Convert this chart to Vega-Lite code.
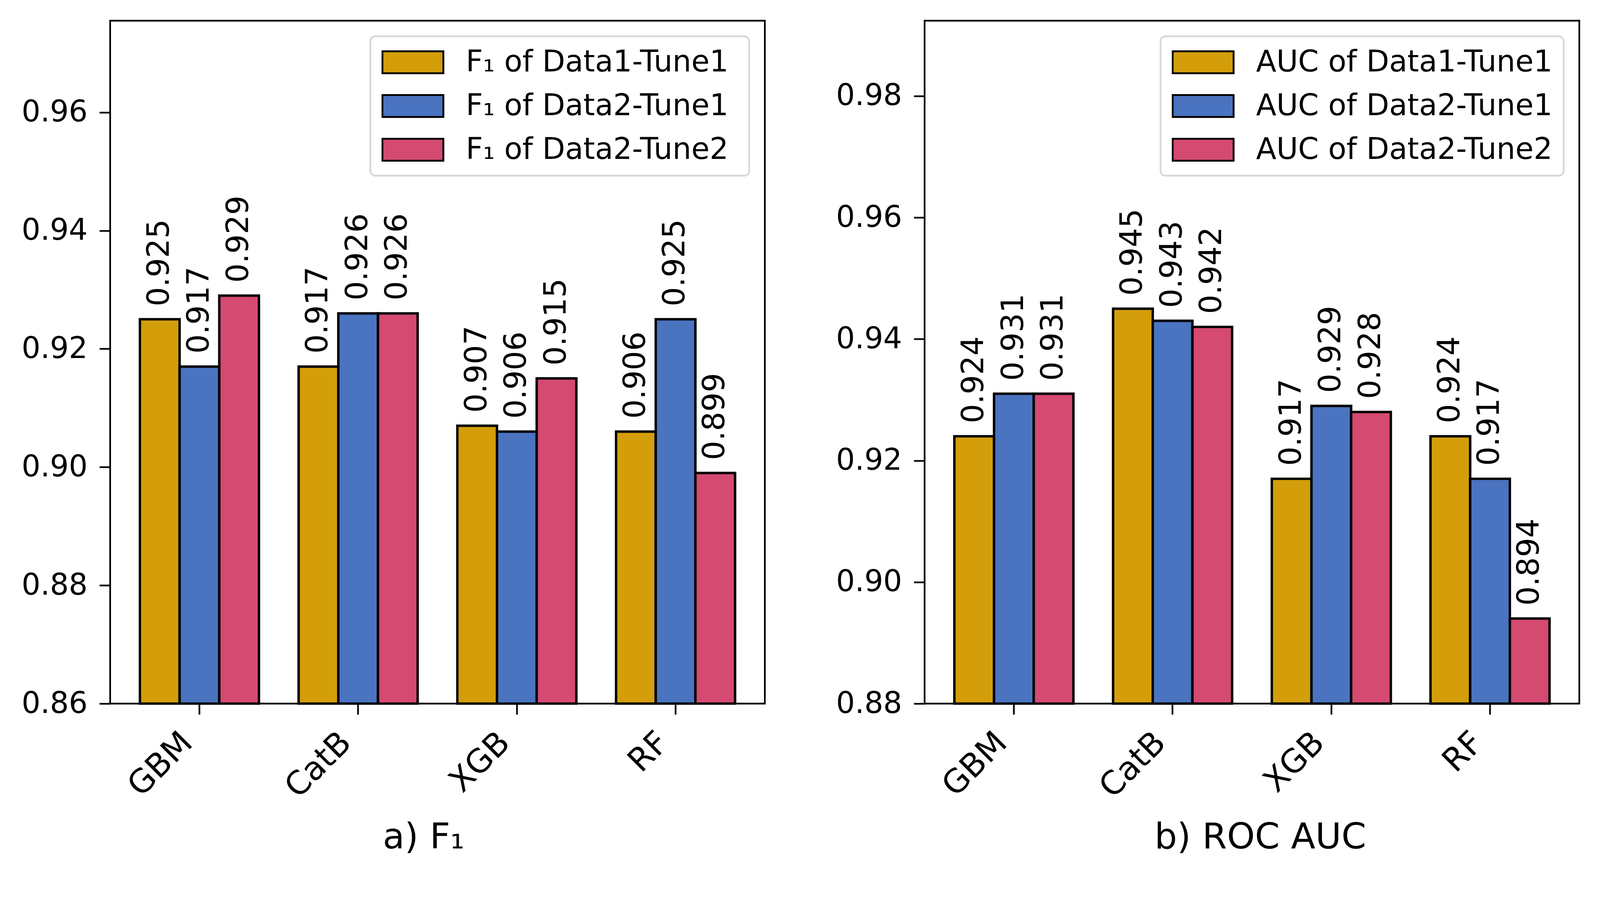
{
  "$schema": "https://vega.github.io/schema/vega-lite/v6.json",
  "background": "white",
  "padding": {"left": 52, "top": 50, "right": 5, "bottom": 5},
  "spacing": 176,
  "config": {
    "font": "DejaVu Sans",
    "view": {"stroke": "black", "strokeWidth": 4.3},
    "axis": {
      "grid": false,
      "domain": false,
      "tickColor": "black",
      "tickWidth": 4.3,
      "tickSize": 27.6,
      "labelColor": "black",
      "labelFont": "DejaVu Sans",
      "labelFontSize": 76,
      "labelPadding": 30.5,
      "labelLimit": 0,
      "titleFont": "DejaVu Sans",
      "titleFontSize": 91,
      "titleFontWeight": "normal",
      "titleColor": "black"
    },
    "axisX": {
      "labelFontSize": 83,
      "labelAngle": -45,
      "labelAlign": "right",
      "labelBaseline": "top",
      "labelOffset": -60,
      "titleY": 370,
      "titleBaseline": "alphabetic"
    },
    "legend": {
      "orient": "top-right",
      "offset": 40,
      "title": null,
      "labelFont": "DejaVu Sans",
      "labelFontSize": 76,
      "labelColor": "black",
      "labelLimit": 0,
      "labelOffset": 55,
      "symbolType": "M-1,-0.36H1V0.36H-1Z",
      "symbolSize": 24336,
      "symbolStrokeColor": "black",
      "symbolStrokeWidth": 4.8,
      "symbolOpacity": 1,
      "padding": 28.5,
      "rowPadding": 36,
      "clipHeight": 76,
      "strokeColor": "#d6d6d6",
      "strokeWidth": 4.3,
      "cornerRadius": 13,
      "fillColor": "white"
    }
  },
  "datasets": {
    "f1": [
      {"model": "GBM", "series": "F₁  of Data1-Tune1", "value": 0.925},
      {"model": "GBM", "series": "F₁  of Data2-Tune1", "value": 0.917},
      {"model": "GBM", "series": "F₁  of Data2-Tune2", "value": 0.929},
      {"model": "CatB", "series": "F₁  of Data1-Tune1", "value": 0.917},
      {"model": "CatB", "series": "F₁  of Data2-Tune1", "value": 0.926},
      {"model": "CatB", "series": "F₁  of Data2-Tune2", "value": 0.926},
      {"model": "XGB", "series": "F₁  of Data1-Tune1", "value": 0.907},
      {"model": "XGB", "series": "F₁  of Data2-Tune1", "value": 0.906},
      {"model": "XGB", "series": "F₁  of Data2-Tune2", "value": 0.915},
      {"model": "RF", "series": "F₁  of Data1-Tune1", "value": 0.906},
      {"model": "RF", "series": "F₁  of Data2-Tune1", "value": 0.925},
      {"model": "RF", "series": "F₁  of Data2-Tune2", "value": 0.899}
    ],
    "auc": [
      {"model": "GBM", "series": "AUC of Data1-Tune1", "value": 0.924},
      {"model": "GBM", "series": "AUC of Data2-Tune1", "value": 0.931},
      {"model": "GBM", "series": "AUC of Data2-Tune2", "value": 0.931},
      {"model": "CatB", "series": "AUC of Data1-Tune1", "value": 0.945},
      {"model": "CatB", "series": "AUC of Data2-Tune1", "value": 0.943},
      {"model": "CatB", "series": "AUC of Data2-Tune2", "value": 0.942},
      {"model": "XGB", "series": "AUC of Data1-Tune1", "value": 0.917},
      {"model": "XGB", "series": "AUC of Data2-Tune1", "value": 0.929},
      {"model": "XGB", "series": "AUC of Data2-Tune2", "value": 0.928},
      {"model": "RF", "series": "AUC of Data1-Tune1", "value": 0.924},
      {"model": "RF", "series": "AUC of Data2-Tune1", "value": 0.917},
      {"model": "RF", "series": "AUC of Data2-Tune2", "value": 0.894}
    ]
  },
  "resolve": {
    "scale": {"xOffset": "independent", "fill": "independent", "y": "independent"},
    "legend": {"fill": "independent"}
  },
  "hconcat": [
    {
      "width": 1676,
      "height": 1749,
      "data": {"name": "f1"},
      "encoding": {
        "x": {
          "field": "model",
          "type": "nominal",
          "sort": ["GBM", "CatB", "XGB", "RF"],
          "scale": {"paddingInner": 0.25, "paddingOuter": 0.1875},
          "axis": {"title": "a) F₁", "titleX": 802}
        },
        "xOffset": {"field": "series", "type": "nominal", "scale": {"paddingInner": 0, "paddingOuter": 0}},
        "y": {
          "field": "value",
          "type": "quantitative",
          "scale": {"domain": [0.86, 0.9755], "zero": false, "nice": false},
          "axis": {"title": null, "values": [0.86, 0.88, 0.9, 0.92, 0.94, 0.96], "format": ".2f"}
        }
      },
      "layer": [
        {
          "mark": {"type": "bar", "stroke": "black", "strokeWidth": 6.2},
          "encoding": {
            "y2": {"datum": 0.86},
            "fill": {
              "field": "series",
              "type": "nominal",
              "scale": {"range": ["#D39E0A", "#4A73C0", "#D44A70"]}
            }
          }
        },
        {
          "mark": {"type": "text", "angle": 270, "align": "left", "baseline": "middle", "dx": 33, "fontSize": 78, "color": "black"},
          "encoding": {"text": {"field": "value", "type": "quantitative", "format": ".3f"}}
        }
      ]
    },
    {
      "width": 1676,
      "height": 1749,
      "data": {"name": "auc"},
      "encoding": {
        "x": {
          "field": "model",
          "type": "nominal",
          "sort": ["GBM", "CatB", "XGB", "RF"],
          "scale": {"paddingInner": 0.25, "paddingOuter": 0.1875},
          "axis": {"title": "b) ROC AUC", "titleX": 859}
        },
        "xOffset": {"field": "series", "type": "nominal", "scale": {"paddingInner": 0, "paddingOuter": 0}},
        "y": {
          "field": "value",
          "type": "quantitative",
          "scale": {"domain": [0.88, 0.9924], "zero": false, "nice": false},
          "axis": {"title": null, "values": [0.88, 0.9, 0.92, 0.94, 0.96, 0.98], "format": ".2f"}
        }
      },
      "layer": [
        {
          "mark": {"type": "bar", "stroke": "black", "strokeWidth": 6.2},
          "encoding": {
            "y2": {"datum": 0.88},
            "fill": {
              "field": "series",
              "type": "nominal",
              "scale": {"range": ["#D39E0A", "#4A73C0", "#D44A70"]}
            }
          }
        },
        {
          "mark": {"type": "text", "angle": 270, "align": "left", "baseline": "middle", "dx": 33, "fontSize": 78, "color": "black"},
          "encoding": {"text": {"field": "value", "type": "quantitative", "format": ".3f"}}
        }
      ]
    }
  ]
}
